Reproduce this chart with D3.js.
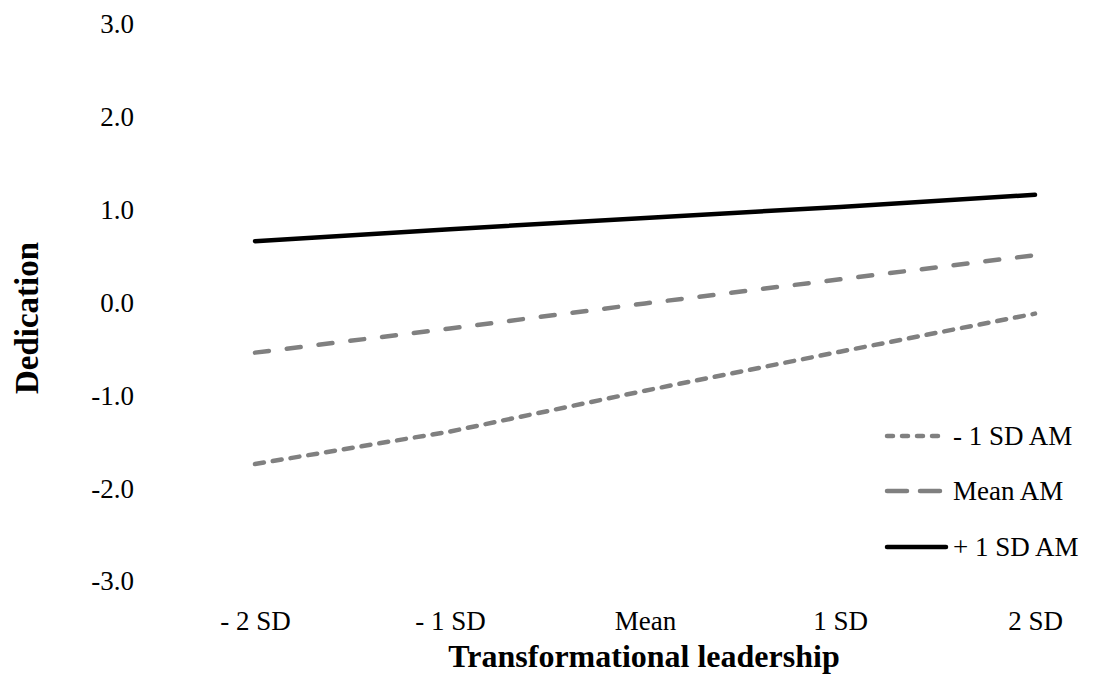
<!DOCTYPE html>
<html><head><meta charset="utf-8">
<script src="https://cdn.jsdelivr.net/npm/d3@7"></script>
<style>body{margin:0;background:#fff}svg{display:block}</style>
</head><body>
<svg id="chart" width="1093" height="677"></svg>
<script>
const categories = ["- 2 SD", "- 1 SD", "Mean", "1 SD", "2 SD"];
const lowAM = [-1.74, -1.39, -0.95, -0.53, -0.12];
const meanAM = [-0.54, -0.28, -0.01, 0.25, 0.51];
const highAM = [0.66, 0.79, 0.91, 1.03, 1.16];
const yTicks = [-3, -2, -1, 0, 1, 2, 3];
const seriesNames = ["- 1 SD AM", "Mean AM", "+ 1 SD AM"];

const series = [
  {name: seriesNames[0], values: lowAM, color: "#808080", width: 4.5, dash: "9,9", legDash: "6,9"},
  {name: seriesNames[1], values: meanAM, color: "#808080", width: 4.5, dash: "14,18", legDash: "20,13"},
  {name: seriesNames[2], values: highAM, color: "#000000", width: 4.5, dash: null, legDash: null}
];

const svg = d3.select("#chart");
const font = "'Liberation Serif','Times New Roman',serif";
const tickSize = 27;

const x = d3.scalePoint().domain(categories).range([255, 1035]);
const y = d3.scaleLinear().domain([-3, 3]).range([581, 24]);

// Y axis
const yAxis = d3.axisLeft(y).tickValues(yTicks).tickFormat(d3.format(".1f")).tickSize(0).tickPadding(0);
const yg = svg.append("g").attr("transform", "translate(134,0)").call(yAxis);
yg.select(".domain").remove();
yg.selectAll("text").attr("font-family", font).attr("font-size", tickSize).attr("fill", "#000").attr("dy", "0.33em")
  .text(d => d < 0 ? "-" + Math.abs(d).toFixed(1) : d.toFixed(1));

// X axis
const xAxis = d3.axisBottom(x).tickSize(0).tickPadding(0);
const xg = svg.append("g").attr("transform", "translate(0,630)").call(xAxis);
xg.select(".domain").remove();
xg.selectAll("text").attr("font-family", font).attr("font-size", tickSize).attr("fill", "#000").attr("dy", "0");

// Titles
svg.append("text").attr("x", 644).attr("y", 667).attr("text-anchor", "middle")
  .attr("font-family", font).attr("font-weight", "bold").attr("font-size", 32).text("Transformational leadership");
svg.append("text").attr("transform", "translate(38,318) rotate(-90)").attr("text-anchor", "middle")
  .attr("font-family", font).attr("font-weight", "bold").attr("font-size", 33).text("Dedication");

// Lines
const line = d3.line().x((d, i) => x(categories[i])).y(d => y(d));
series.forEach(s => {
  svg.append("path").datum(s.values).attr("d", line).attr("fill", "none")
    .attr("stroke", s.color).attr("stroke-width", s.width).attr("stroke-linecap", "round")
    .attr("stroke-dasharray", s.dash);
});

// Legend
const legY = [436, 491, 547];
series.forEach((s, i) => {
  const g = svg.append("g").attr("transform", `translate(887,${legY[i]})`);
  g.append("line").attr("x1", 0).attr("x2", 59).attr("y1", 0).attr("y2", 0)
    .attr("stroke", s.color).attr("stroke-width", s.width).attr("stroke-linecap", "round")
    .attr("stroke-dasharray", s.legDash);
  g.append("text").attr("x", 66).attr("y", 0).attr("dy", "0.33em")
    .attr("font-family", font).attr("font-size", tickSize).text(s.name);
});
</script>
</body></html>
